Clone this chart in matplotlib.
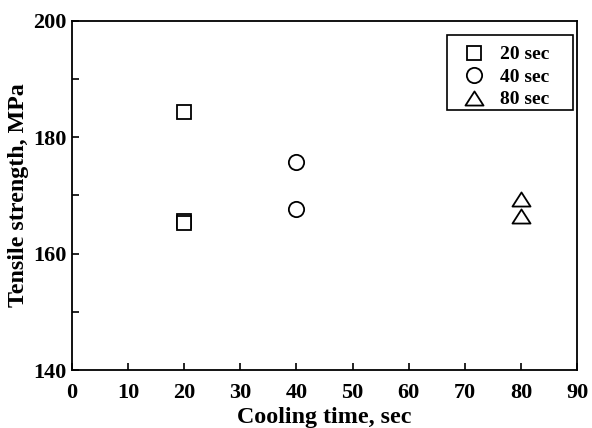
import matplotlib
matplotlib.use("Agg")
import matplotlib.pyplot as plt
from matplotlib.path import Path
from matplotlib.patches import Rectangle
from matplotlib.ticker import MultipleLocator

plt.rcParams['font.family'] = ['Liberation Serif', 'DejaVu Serif']
plt.rcParams['font.weight'] = 'bold'

# data
x20 = [20, 20, 20]
y20 = [184.4, 165.7, 165.2]
x40 = [40, 40]
y40 = [175.7, 167.6]
x80 = [80, 80]
y80 = [169.4, 166.5]
labels = ['20 sec', '40 sec', '80 sec']

tri = Path([(0, 0.78), (-1, -0.78), (1, -0.78), (0, 0.78)],
           [Path.MOVETO, Path.LINETO, Path.LINETO, Path.CLOSEPOLY])

fig = plt.figure(figsize=(5.92, 4.28), dpi=100)
ax = fig.add_axes([0.1216, 0.1355, 0.9747 - 0.1216, 0.951 - 0.1355])

ax.plot(x20, y20, ls='none', marker='s', ms=9.4, mfc='white', mec='black', mew=1.3, label=labels[0])
ax.plot(x40, y40, ls='none', marker='o', ms=11, mfc='white', mec='black', mew=1.3, label=labels[1])
ax.plot(x80, y80, ls='none', marker=tri, ms=13, mfc='white', mec='black', mew=1.3, label=labels[2])

ax.set_xlim(0, 90)
ax.set_ylim(140, 200)
ax.xaxis.set_major_locator(MultipleLocator(10))
ax.yaxis.set_major_locator(MultipleLocator(20))
ax.yaxis.set_minor_locator(MultipleLocator(10))
ax.tick_params(which='both', direction='in', length=5, width=1.2, labelsize=16)
ax.tick_params(axis='x', pad=9)
ax.tick_params(axis='y', pad=4)
for s in ax.spines.values():
    s.set_linewidth(1.3)
for lab in ax.get_xticklabels() + ax.get_yticklabels():
    lab.set_fontweight('bold')

ax.set_xlabel('Cooling time, sec', fontsize=17.3, fontweight='bold', labelpad=3)
ax.set_ylabel('Tensile strength, MPa', fontsize=17.3, fontweight='bold', labelpad=3)

# legend frame
ax.add_patch(Rectangle((0.7426, 0.745), 0.992 - 0.7426, 0.960 - 0.745, transform=ax.transAxes,
                       fill=True, facecolor='white', edgecolor='black', lw=1.2, zorder=4))
leg = ax.legend(loc='upper left', bbox_to_anchor=(0.759, 0.929), frameon=False,
                prop={'size': 14, 'weight': 'bold'},
                handlelength=1.9, handletextpad=0.4, labelspacing=0.25, borderpad=0,
                borderaxespad=0)
leg.set_zorder(5)

fig.savefig('out.png', dpi=100)
